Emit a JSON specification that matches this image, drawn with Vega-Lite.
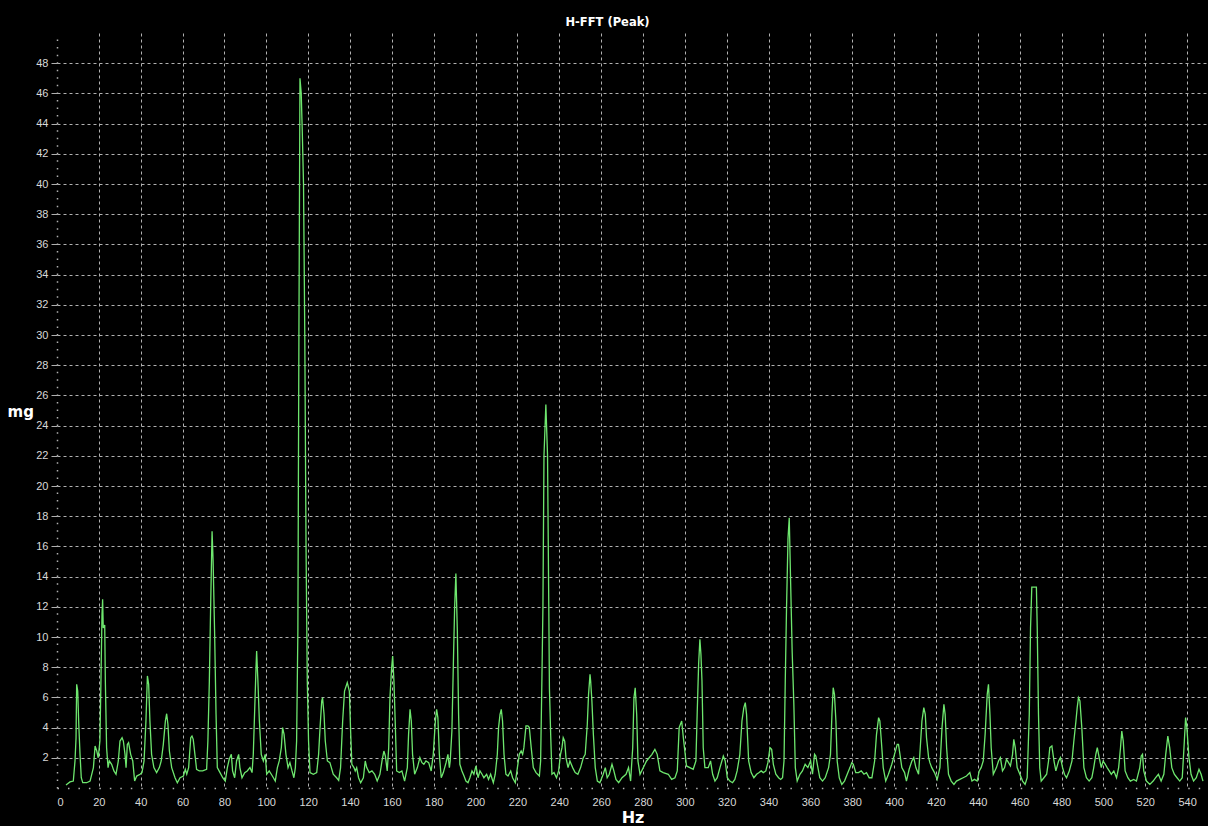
{
  "$schema": "https://vega.github.io/schema/vega-lite/v6.json",
  "width": 1151,
  "height": 755,
  "autosize": {"type": "none"},
  "padding": {"left": 57, "top": 33, "right": 0, "bottom": 38},
  "background": "black",
  "title": {"text": "H-FFT (Peak)", "color": "white", "font": "DejaVu Sans", "fontSize": 11.5, "fontWeight": "bold", "anchor": "middle", "frame": "bounds", "offset": 5},
  "config": {"view": {"stroke": null}},
  "data": {"values": [
{"hz":4.3,"mg":0.2},{"hz":6.2,"mg":0.4},{"hz":7.8,"mg":0.46},{"hz":8.6,"mg":1.79},{"hz":9.1,"mg":3.33},{"hz":9.4,"mg":6.87},{"hz":9.9,"mg":6.42},{"hz":10.4,"mg":4.22},{"hz":11.0,"mg":2.23},{"hz":11.6,"mg":0.68},{"hz":12.3,"mg":0.35},{"hz":14.2,"mg":0.35},{"hz":15.8,"mg":0.46},{"hz":17.4,"mg":1.35},{"hz":18.2,"mg":2.78},{"hz":19.0,"mg":2.45},{"hz":19.7,"mg":2.0},{"hz":20.5,"mg":3.11},{"hz":21.0,"mg":7.09},{"hz":21.5,"mg":11.5},{"hz":21.8,"mg":12.5},{"hz":22.1,"mg":10.6},{"hz":22.8,"mg":10.8},{"hz":23.1,"mg":7.09},{"hz":23.7,"mg":2.67},{"hz":24.4,"mg":1.35},{"hz":25.0,"mg":1.79},{"hz":26.1,"mg":1.57},{"hz":27.2,"mg":1.13},{"hz":28.2,"mg":0.91},{"hz":29.3,"mg":1.79},{"hz":30.1,"mg":3.11},{"hz":31.1,"mg":3.33},{"hz":31.7,"mg":3.11},{"hz":32.5,"mg":2.23},{"hz":33.0,"mg":1.35},{"hz":33.6,"mg":2.89},{"hz":34.2,"mg":3.0},{"hz":35.2,"mg":2.23},{"hz":36.2,"mg":1.79},{"hz":37.1,"mg":0.46},{"hz":38.1,"mg":0.79},{"hz":39.7,"mg":0.91},{"hz":40.6,"mg":1.02},{"hz":41.6,"mg":1.79},{"hz":42.5,"mg":4.44},{"hz":43.2,"mg":7.42},{"hz":43.8,"mg":6.87},{"hz":44.4,"mg":4.44},{"hz":45.2,"mg":2.23},{"hz":46.3,"mg":1.35},{"hz":47.6,"mg":1.02},{"hz":48.9,"mg":1.35},{"hz":49.8,"mg":1.79},{"hz":50.8,"mg":2.89},{"hz":51.8,"mg":4.44},{"hz":52.4,"mg":4.92},{"hz":53.0,"mg":4.22},{"hz":53.7,"mg":2.45},{"hz":54.8,"mg":1.35},{"hz":56.4,"mg":0.68},{"hz":57.5,"mg":0.35},{"hz":58.8,"mg":0.68},{"hz":60.4,"mg":0.79},{"hz":61.3,"mg":1.24},{"hz":62.0,"mg":0.91},{"hz":62.9,"mg":1.35},{"hz":63.9,"mg":3.33},{"hz":64.5,"mg":3.44},{"hz":65.1,"mg":3.22},{"hz":65.9,"mg":2.23},{"hz":66.7,"mg":1.24},{"hz":68.0,"mg":1.13},{"hz":69.6,"mg":1.13},{"hz":71.5,"mg":1.24},{"hz":72.1,"mg":3.11},{"hz":72.8,"mg":7.09},{"hz":73.4,"mg":11.9},{"hz":74.1,"mg":17.0},{"hz":74.6,"mg":15.0},{"hz":75.3,"mg":10.4},{"hz":76.0,"mg":4.88},{"hz":76.6,"mg":1.35},{"hz":77.9,"mg":1.02},{"hz":79.2,"mg":0.68},{"hz":80.4,"mg":0.46},{"hz":81.4,"mg":1.35},{"hz":82.3,"mg":1.9},{"hz":83.3,"mg":2.23},{"hz":83.9,"mg":1.13},{"hz":84.9,"mg":0.68},{"hz":85.8,"mg":1.79},{"hz":86.8,"mg":2.23},{"hz":87.4,"mg":1.35},{"hz":88.4,"mg":0.68},{"hz":89.7,"mg":1.02},{"hz":90.9,"mg":1.13},{"hz":92.2,"mg":1.35},{"hz":93.2,"mg":1.02},{"hz":93.8,"mg":2.23},{"hz":94.4,"mg":4.88},{"hz":95.1,"mg":7.97},{"hz":95.4,"mg":9.07},{"hz":96.0,"mg":7.09},{"hz":96.7,"mg":4.44},{"hz":97.6,"mg":2.23},{"hz":98.6,"mg":1.79},{"hz":99.5,"mg":2.23},{"hz":100.2,"mg":0.91},{"hz":101.4,"mg":1.13},{"hz":102.4,"mg":0.91},{"hz":103.4,"mg":0.68},{"hz":104.3,"mg":0.46},{"hz":105.3,"mg":1.35},{"hz":106.2,"mg":1.79},{"hz":107.2,"mg":2.67},{"hz":107.8,"mg":4.0},{"hz":108.5,"mg":3.55},{"hz":109.4,"mg":2.23},{"hz":110.4,"mg":1.35},{"hz":111.3,"mg":1.68},{"hz":112.3,"mg":1.13},{"hz":113.2,"mg":0.68},{"hz":113.9,"mg":1.35},{"hz":114.5,"mg":3.11},{"hz":115.1,"mg":10.4},{"hz":115.6,"mg":30.0},{"hz":116.1,"mg":47.0},{"hz":116.7,"mg":46.0},{"hz":117.2,"mg":43.5},{"hz":117.8,"mg":40.0},{"hz":118.4,"mg":30.0},{"hz":119.0,"mg":16.0},{"hz":119.6,"mg":7.09},{"hz":120.2,"mg":3.11},{"hz":120.9,"mg":1.02},{"hz":122.5,"mg":0.91},{"hz":124.1,"mg":1.02},{"hz":125.0,"mg":2.23},{"hz":125.7,"mg":4.0},{"hz":126.5,"mg":5.76},{"hz":126.9,"mg":5.98},{"hz":127.6,"mg":4.88},{"hz":128.2,"mg":3.11},{"hz":129.2,"mg":1.79},{"hz":130.4,"mg":1.68},{"hz":132.0,"mg":0.91},{"hz":133.6,"mg":0.68},{"hz":134.6,"mg":0.5},{"hz":135.5,"mg":1.35},{"hz":136.5,"mg":4.44},{"hz":137.4,"mg":6.42},{"hz":138.7,"mg":6.98},{"hz":139.7,"mg":6.42},{"hz":140.3,"mg":3.77},{"hz":140.9,"mg":1.57},{"hz":141.9,"mg":1.35},{"hz":142.5,"mg":1.13},{"hz":143.2,"mg":1.35},{"hz":144.1,"mg":0.68},{"hz":145.1,"mg":0.35},{"hz":146.4,"mg":0.68},{"hz":147.3,"mg":1.79},{"hz":148.0,"mg":1.35},{"hz":149.2,"mg":1.02},{"hz":150.5,"mg":1.13},{"hz":151.8,"mg":0.91},{"hz":153.0,"mg":0.46},{"hz":154.3,"mg":0.91},{"hz":155.3,"mg":1.79},{"hz":156.2,"mg":2.45},{"hz":156.9,"mg":2.12},{"hz":157.8,"mg":1.13},{"hz":158.5,"mg":2.67},{"hz":159.1,"mg":5.98},{"hz":159.9,"mg":7.97},{"hz":160.4,"mg":8.74},{"hz":161.0,"mg":7.09},{"hz":161.6,"mg":4.44},{"hz":162.3,"mg":1.13},{"hz":163.6,"mg":1.02},{"hz":164.8,"mg":1.13},{"hz":166.1,"mg":0.46},{"hz":167.4,"mg":1.35},{"hz":168.0,"mg":3.55},{"hz":168.7,"mg":5.21},{"hz":169.3,"mg":4.44},{"hz":169.9,"mg":2.23},{"hz":170.9,"mg":0.91},{"hz":172.2,"mg":1.35},{"hz":173.4,"mg":2.01},{"hz":174.4,"mg":1.68},{"hz":175.3,"mg":1.57},{"hz":176.3,"mg":1.79},{"hz":177.6,"mg":1.68},{"hz":178.8,"mg":1.13},{"hz":179.8,"mg":2.23},{"hz":180.8,"mg":4.44},{"hz":181.4,"mg":5.21},{"hz":182.0,"mg":4.66},{"hz":182.7,"mg":2.23},{"hz":183.6,"mg":0.68},{"hz":184.6,"mg":1.02},{"hz":185.9,"mg":1.68},{"hz":186.8,"mg":2.23},{"hz":187.5,"mg":1.35},{"hz":187.9,"mg":1.79},{"hz":188.7,"mg":3.77},{"hz":189.4,"mg":8.19},{"hz":190.0,"mg":11.9},{"hz":190.6,"mg":14.2},{"hz":191.3,"mg":10.4},{"hz":191.9,"mg":4.88},{"hz":192.5,"mg":1.57},{"hz":193.5,"mg":1.13},{"hz":194.5,"mg":0.79},{"hz":195.4,"mg":0.46},{"hz":196.4,"mg":0.35},{"hz":197.3,"mg":0.68},{"hz":198.3,"mg":1.13},{"hz":199.2,"mg":0.91},{"hz":200.2,"mg":1.46},{"hz":201.2,"mg":0.68},{"hz":202.1,"mg":1.13},{"hz":203.1,"mg":0.91},{"hz":204.0,"mg":0.68},{"hz":205.3,"mg":0.91},{"hz":206.2,"mg":0.57},{"hz":207.2,"mg":0.91},{"hz":208.5,"mg":0.35},{"hz":209.4,"mg":0.91},{"hz":210.4,"mg":2.23},{"hz":211.0,"mg":4.0},{"hz":211.7,"mg":4.88},{"hz":212.3,"mg":5.21},{"hz":212.9,"mg":4.44},{"hz":213.6,"mg":2.23},{"hz":214.5,"mg":0.91},{"hz":215.5,"mg":0.79},{"hz":216.8,"mg":1.13},{"hz":217.7,"mg":0.68},{"hz":219.0,"mg":0.35},{"hz":220.0,"mg":1.35},{"hz":220.9,"mg":2.23},{"hz":221.8,"mg":2.45},{"hz":222.5,"mg":2.23},{"hz":223.1,"mg":2.67},{"hz":224.1,"mg":4.11},{"hz":225.0,"mg":4.11},{"hz":225.7,"mg":4.0},{"hz":226.6,"mg":2.67},{"hz":227.6,"mg":1.35},{"hz":228.9,"mg":1.02},{"hz":230.5,"mg":0.79},{"hz":231.1,"mg":1.79},{"hz":231.7,"mg":7.09},{"hz":232.2,"mg":12.0},{"hz":232.7,"mg":22.0},{"hz":233.6,"mg":25.4},{"hz":234.4,"mg":22.0},{"hz":235.0,"mg":12.0},{"hz":235.3,"mg":6.6},{"hz":235.9,"mg":3.55},{"hz":236.5,"mg":0.91},{"hz":237.5,"mg":1.02},{"hz":238.7,"mg":0.68},{"hz":239.7,"mg":1.13},{"hz":240.6,"mg":2.23},{"hz":241.3,"mg":2.67},{"hz":241.9,"mg":3.33},{"hz":242.6,"mg":3.11},{"hz":243.2,"mg":2.01},{"hz":244.2,"mg":1.35},{"hz":245.1,"mg":1.79},{"hz":246.4,"mg":1.35},{"hz":247.6,"mg":1.02},{"hz":248.9,"mg":0.91},{"hz":250.2,"mg":1.35},{"hz":251.5,"mg":2.01},{"hz":252.4,"mg":2.23},{"hz":253.4,"mg":4.22},{"hz":254.0,"mg":6.2},{"hz":254.7,"mg":7.53},{"hz":255.0,"mg":7.09},{"hz":255.6,"mg":5.76},{"hz":256.3,"mg":3.55},{"hz":257.2,"mg":1.35},{"hz":258.2,"mg":0.46},{"hz":259.4,"mg":0.35},{"hz":261.0,"mg":0.91},{"hz":262.0,"mg":1.35},{"hz":262.9,"mg":0.68},{"hz":263.9,"mg":0.91},{"hz":265.2,"mg":1.57},{"hz":266.1,"mg":1.13},{"hz":267.1,"mg":0.57},{"hz":268.4,"mg":0.35},{"hz":270.0,"mg":0.68},{"hz":271.9,"mg":0.91},{"hz":273.1,"mg":1.35},{"hz":274.1,"mg":0.46},{"hz":275.1,"mg":2.67},{"hz":275.7,"mg":5.98},{"hz":276.3,"mg":6.64},{"hz":277.0,"mg":4.88},{"hz":277.6,"mg":1.79},{"hz":278.6,"mg":0.91},{"hz":281.7,"mg":1.79},{"hz":284.3,"mg":2.23},{"hz":285.7,"mg":2.56},{"hz":286.8,"mg":2.23},{"hz":288.1,"mg":1.13},{"hz":289.7,"mg":1.02},{"hz":292.1,"mg":0.91},{"hz":293.7,"mg":0.57},{"hz":295.3,"mg":0.68},{"hz":296.4,"mg":1.13},{"hz":297.3,"mg":4.0},{"hz":298.5,"mg":4.44},{"hz":299.3,"mg":3.33},{"hz":300.8,"mg":1.46},{"hz":302.4,"mg":1.35},{"hz":304.0,"mg":1.24},{"hz":305.3,"mg":1.79},{"hz":305.9,"mg":4.88},{"hz":306.6,"mg":8.19},{"hz":307.2,"mg":9.85},{"hz":307.7,"mg":8.85},{"hz":308.2,"mg":7.09},{"hz":308.8,"mg":2.67},{"hz":309.6,"mg":1.35},{"hz":311.2,"mg":1.35},{"hz":312.3,"mg":1.79},{"hz":313.3,"mg":0.91},{"hz":314.4,"mg":0.46},{"hz":315.5,"mg":0.68},{"hz":316.8,"mg":1.35},{"hz":318.4,"mg":2.12},{"hz":319.3,"mg":1.79},{"hz":320.3,"mg":0.68},{"hz":321.5,"mg":0.46},{"hz":322.8,"mg":0.35},{"hz":323.9,"mg":0.57},{"hz":325.0,"mg":1.13},{"hz":326.3,"mg":2.23},{"hz":327.3,"mg":4.44},{"hz":328.2,"mg":5.32},{"hz":328.9,"mg":5.65},{"hz":329.5,"mg":4.88},{"hz":330.5,"mg":1.79},{"hz":331.7,"mg":1.02},{"hz":333.0,"mg":0.68},{"hz":334.3,"mg":0.91},{"hz":335.5,"mg":1.02},{"hz":336.5,"mg":1.13},{"hz":337.5,"mg":1.02},{"hz":338.7,"mg":1.13},{"hz":339.7,"mg":1.68},{"hz":340.7,"mg":2.67},{"hz":341.5,"mg":2.56},{"hz":342.3,"mg":1.57},{"hz":343.5,"mg":0.91},{"hz":344.8,"mg":0.68},{"hz":345.8,"mg":0.57},{"hz":346.7,"mg":0.68},{"hz":347.4,"mg":1.79},{"hz":348.0,"mg":7.09},{"hz":348.6,"mg":11.9},{"hz":349.3,"mg":16.5},{"hz":349.9,"mg":17.9},{"hz":350.5,"mg":14.0},{"hz":351.3,"mg":9.0},{"hz":352.1,"mg":5.54},{"hz":352.8,"mg":1.35},{"hz":353.7,"mg":0.46},{"hz":355.0,"mg":0.91},{"hz":356.2,"mg":1.13},{"hz":357.5,"mg":1.57},{"hz":358.8,"mg":1.35},{"hz":360.1,"mg":1.79},{"hz":361.0,"mg":0.91},{"hz":362.0,"mg":2.23},{"hz":362.6,"mg":2.12},{"hz":363.6,"mg":1.35},{"hz":364.5,"mg":0.68},{"hz":365.8,"mg":0.46},{"hz":367.1,"mg":0.68},{"hz":368.7,"mg":1.35},{"hz":369.6,"mg":2.23},{"hz":370.3,"mg":4.88},{"hz":370.9,"mg":6.64},{"hz":371.5,"mg":6.2},{"hz":372.2,"mg":4.44},{"hz":372.8,"mg":1.79},{"hz":373.8,"mg":0.68},{"hz":375.0,"mg":0.24},{"hz":376.3,"mg":0.46},{"hz":377.6,"mg":0.91},{"hz":378.9,"mg":1.35},{"hz":379.8,"mg":1.68},{"hz":380.5,"mg":1.57},{"hz":381.7,"mg":1.02},{"hz":383.0,"mg":1.02},{"hz":384.3,"mg":1.13},{"hz":385.6,"mg":0.91},{"hz":386.8,"mg":1.02},{"hz":388.1,"mg":0.68},{"hz":389.4,"mg":0.68},{"hz":390.7,"mg":1.79},{"hz":391.6,"mg":3.55},{"hz":392.6,"mg":4.66},{"hz":393.2,"mg":4.44},{"hz":393.8,"mg":3.33},{"hz":394.8,"mg":1.35},{"hz":396.0,"mg":0.46},{"hz":397.3,"mg":0.91},{"hz":398.9,"mg":1.57},{"hz":400.2,"mg":2.23},{"hz":401.5,"mg":2.89},{"hz":402.1,"mg":2.89},{"hz":402.8,"mg":2.23},{"hz":403.7,"mg":1.35},{"hz":405.0,"mg":1.02},{"hz":405.9,"mg":0.46},{"hz":407.2,"mg":1.24},{"hz":408.5,"mg":1.79},{"hz":409.4,"mg":2.01},{"hz":410.4,"mg":1.35},{"hz":411.7,"mg":0.91},{"hz":412.3,"mg":2.23},{"hz":413.3,"mg":4.44},{"hz":414.2,"mg":5.32},{"hz":414.9,"mg":4.88},{"hz":415.5,"mg":3.33},{"hz":416.5,"mg":2.01},{"hz":417.1,"mg":1.68},{"hz":418.0,"mg":1.35},{"hz":419.3,"mg":1.02},{"hz":420.6,"mg":0.57},{"hz":421.9,"mg":1.35},{"hz":422.9,"mg":4.0},{"hz":423.8,"mg":5.54},{"hz":424.4,"mg":4.88},{"hz":425.1,"mg":2.67},{"hz":426.0,"mg":0.91},{"hz":427.3,"mg":0.46},{"hz":428.6,"mg":0.24},{"hz":429.8,"mg":0.46},{"hz":431.4,"mg":0.57},{"hz":433.0,"mg":0.68},{"hz":434.6,"mg":0.79},{"hz":436.2,"mg":1.02},{"hz":437.2,"mg":0.46},{"hz":438.4,"mg":0.57},{"hz":439.7,"mg":0.46},{"hz":440.7,"mg":1.13},{"hz":441.6,"mg":1.35},{"hz":442.6,"mg":1.79},{"hz":443.5,"mg":3.55},{"hz":444.5,"mg":6.2},{"hz":445.1,"mg":6.87},{"hz":445.8,"mg":4.88},{"hz":446.4,"mg":2.67},{"hz":447.4,"mg":0.91},{"hz":448.9,"mg":1.35},{"hz":449.9,"mg":1.79},{"hz":450.8,"mg":2.01},{"hz":451.8,"mg":1.13},{"hz":452.8,"mg":1.35},{"hz":453.7,"mg":1.9},{"hz":454.7,"mg":1.68},{"hz":455.6,"mg":1.46},{"hz":456.6,"mg":2.23},{"hz":457.2,"mg":3.22},{"hz":457.9,"mg":2.67},{"hz":458.8,"mg":1.35},{"hz":460.1,"mg":0.91},{"hz":461.4,"mg":0.46},{"hz":462.6,"mg":0.24},{"hz":463.6,"mg":0.68},{"hz":464.6,"mg":4.88},{"hz":465.2,"mg":10.6},{"hz":465.8,"mg":13.3},{"hz":468.0,"mg":13.3},{"hz":468.4,"mg":10.6},{"hz":469.0,"mg":4.88},{"hz":469.6,"mg":1.35},{"hz":470.3,"mg":0.46},{"hz":471.6,"mg":0.68},{"hz":472.9,"mg":0.91},{"hz":473.8,"mg":1.79},{"hz":474.4,"mg":2.67},{"hz":475.4,"mg":2.78},{"hz":476.4,"mg":1.79},{"hz":477.3,"mg":1.13},{"hz":478.6,"mg":1.79},{"hz":479.5,"mg":2.01},{"hz":480.5,"mg":1.35},{"hz":481.4,"mg":0.91},{"hz":482.4,"mg":0.68},{"hz":483.7,"mg":1.13},{"hz":485.0,"mg":1.79},{"hz":485.9,"mg":3.11},{"hz":486.9,"mg":4.44},{"hz":487.5,"mg":5.32},{"hz":488.1,"mg":5.98},{"hz":488.8,"mg":5.76},{"hz":489.7,"mg":4.0},{"hz":490.7,"mg":1.35},{"hz":491.9,"mg":0.68},{"hz":493.2,"mg":0.46},{"hz":494.5,"mg":0.68},{"hz":495.4,"mg":1.35},{"hz":496.4,"mg":2.23},{"hz":497.1,"mg":2.67},{"hz":498.0,"mg":2.01},{"hz":499.0,"mg":1.35},{"hz":499.9,"mg":1.79},{"hz":500.9,"mg":1.57},{"hz":501.8,"mg":1.35},{"hz":502.8,"mg":1.13},{"hz":503.8,"mg":0.91},{"hz":505.0,"mg":1.13},{"hz":506.3,"mg":0.68},{"hz":507.3,"mg":1.35},{"hz":508.2,"mg":2.67},{"hz":508.8,"mg":3.77},{"hz":509.5,"mg":3.11},{"hz":510.4,"mg":1.13},{"hz":511.7,"mg":0.68},{"hz":512.9,"mg":0.46},{"hz":514.5,"mg":0.57},{"hz":515.8,"mg":0.46},{"hz":517.4,"mg":1.35},{"hz":518.1,"mg":2.12},{"hz":518.7,"mg":2.23},{"hz":519.3,"mg":1.13},{"hz":520.6,"mg":0.46},{"hz":522.2,"mg":0.24},{"hz":523.8,"mg":0.46},{"hz":525.0,"mg":0.68},{"hz":526.3,"mg":0.91},{"hz":527.6,"mg":0.46},{"hz":528.9,"mg":0.91},{"hz":529.8,"mg":2.23},{"hz":530.8,"mg":3.44},{"hz":531.7,"mg":2.67},{"hz":532.7,"mg":1.35},{"hz":533.9,"mg":0.91},{"hz":535.2,"mg":0.68},{"hz":536.5,"mg":0.46},{"hz":537.7,"mg":0.68},{"hz":538.7,"mg":3.11},{"hz":539.3,"mg":4.66},{"hz":539.9,"mg":4.0},{"hz":540.9,"mg":2.01},{"hz":541.9,"mg":0.91},{"hz":543.1,"mg":0.46},{"hz":544.4,"mg":0.68},{"hz":545.7,"mg":1.24},{"hz":546.7,"mg":0.91},{"hz":547.6,"mg":0.46}
  ]},
  "mark": {"type": "line", "color": "#6ee66e", "strokeWidth": 1.3, "clip": true},
  "encoding": {
    "x": {"field": "hz", "type": "quantitative", "scale": {"domain": [0, 550], "nice": false, "zero": false},
      "axis": {"values": [0,20,40,60,80,100,120,140,160,180,200,220,240,260,280,300,320,340,360,380,400,420,440,460,480,500,520,540],
        "grid": true, "gridColor": "#b0b0b0", "gridDash": [3, 3], "gridWidth": 1,
        "gridOpacity": {"condition": {"test": "datum.value === 0", "value": 0}, "value": 1},
        "ticks": true, "tickSize": 0, "tickOpacity": 0,
        "labelColor": "#d8d8d8", "labelFont": "Liberation Sans", "labelFontSize": 11, "labelPadding": 8,
        "domainColor": "#b0b0b0", "domainDash": [1.5, 8.97], "domainWidth": 1.5,
        "title": "Hz", "titleColor": "white", "titleFont": "DejaVu Sans", "titleFontSize": 16, "titleFontWeight": "bold",
        "titleBaseline": "alphabetic", "titleY": 34}},
    "y": {"field": "mg", "type": "quantitative", "scale": {"domain": [0, 50], "nice": false},
      "axis": {"values": [2,4,6,8,10,12,14,16,18,20,22,24,26,28,30,32,34,36,38,40,42,44,46,48],
        "grid": true, "gridColor": "#b0b0b0", "gridDash": [3, 3], "gridWidth": 1,
        "tickSize": 6, "tickColor": "#b0b0b0",
        "labelColor": "#d8d8d8", "labelFont": "Liberation Sans", "labelFontSize": 11, "labelPadding": 3,
        "domainColor": "#b0b0b0", "domainDash": [1.5, 6.05], "domainWidth": 1.5,
        "title": "mg", "titleAngle": 0, "titleAlign": "left", "titleBaseline": "middle", "titleX": -50, "titleY": 378,
        "titleColor": "white", "titleFont": "DejaVu Sans", "titleFontSize": 15, "titleFontWeight": "bold"}}
  }
}
